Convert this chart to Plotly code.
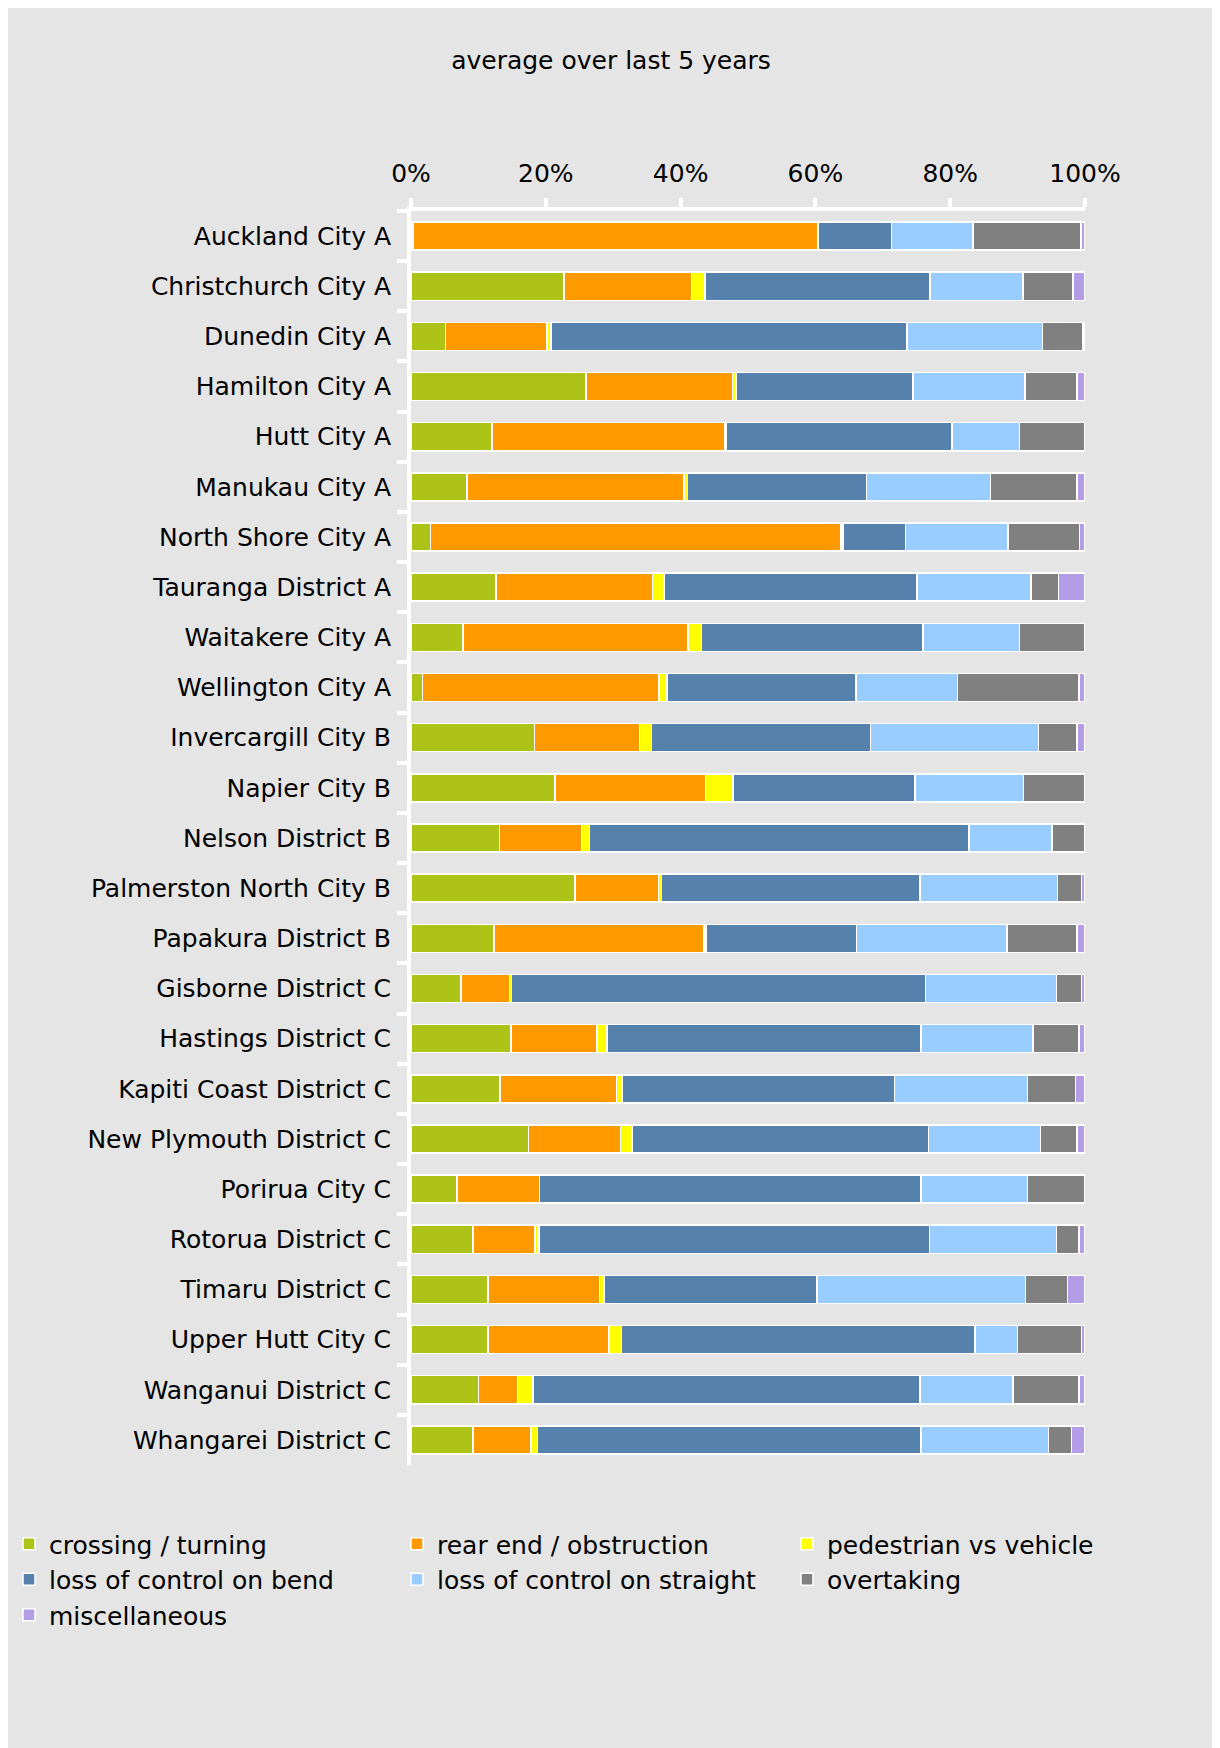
import plotly.graph_objects as go

# areas, top to bottom
areas = [
    "Auckland City A", "Christchurch City A", "Dunedin City A", "Hamilton City A",
    "Hutt City A", "Manukau City A", "North Shore City A", "Tauranga District A",
    "Waitakere City A", "Wellington City A", "Invercargill City B", "Napier City B",
    "Nelson District B", "Palmerston North City B", "Papakura District B",
    "Gisborne District C", "Hastings District C", "Kapiti Coast District C",
    "New Plymouth District C", "Porirua City C", "Rotorua District C",
    "Timaru District C", "Upper Hutt City C", "Wanganui District C",
    "Whangarei District C",
]

# share of crashes (%) by movement type, same order as areas
crossing_turning = [0.3, 22.7, 5.1, 26.0, 12.0, 8.3, 2.9, 12.6, 7.7, 1.7, 18.3, 21.4, 13.1,
                    24.3, 12.3, 7.4, 14.8, 13.2, 17.4, 6.8, 9.2, 11.4, 11.4, 10.0, 9.2]
rear_end = [60.1, 18.9, 15.1, 21.7, 34.6, 32.2, 60.9, 23.2, 33.4, 35.1, 15.6, 22.3, 12.2,
            12.4, 31.2, 7.2, 12.8, 17.3, 13.7, 12.3, 9.2, 16.6, 18.0, 5.8, 8.6]
pedestrian = [0.0, 2.0, 0.6, 0.5, 0.2, 0.5, 0.3, 1.7, 2.0, 1.2, 1.8, 4.1, 1.2,
              0.5, 0.3, 0.3, 1.5, 0.8, 1.7, 0.0, 0.6, 0.6, 1.8, 2.3, 1.0]
bend = [10.9, 33.4, 52.8, 26.3, 33.5, 26.6, 9.3, 37.6, 32.9, 28.0, 32.5, 27.0, 56.3,
        38.3, 22.3, 61.4, 46.6, 40.4, 44.0, 56.6, 57.9, 31.6, 52.5, 57.4, 56.9]
straight = [12.1, 13.8, 20.1, 16.6, 10.0, 18.4, 15.2, 16.9, 14.3, 15.1, 24.9, 16.1, 12.3,
            20.4, 22.3, 19.5, 16.6, 19.8, 16.6, 15.8, 18.9, 31.0, 6.3, 13.8, 18.9]
overtaking = [16.0, 7.4, 6.0, 7.7, 9.7, 12.8, 10.6, 4.1, 9.7, 18.0, 5.7, 9.1, 4.9,
              3.6, 10.4, 3.7, 6.8, 7.1, 5.4, 8.5, 3.3, 6.2, 9.5, 9.8, 3.4]
misc = [0.6, 1.8, 0.3, 1.2, 0.0, 1.2, 0.8, 3.9, 0.0, 0.9, 1.2, 0.0, 0.0,
        0.5, 1.2, 0.5, 0.9, 1.4, 1.2, 0.0, 0.9, 2.6, 0.5, 0.9, 2.0]

pct_ticks = [0, 20, 40, 60, 80, 100]
pct_labels = ["0%", "20%", "40%", "60%", "80%", "100%"]

# (name, values, colour, legend column)
series = [
    ("crossing / turning", crossing_turning, "#adc318", "legend"),
    ("rear end / obstruction", rear_end, "#ff9900", "legend2"),
    ("pedestrian vs vehicle", pedestrian, "#ffff00", "legend3"),
    ("loss of control on bend", bend, "#5781ad", "legend"),
    ("loss of control on straight", straight, "#99ccff", "legend2"),
    ("overtaking", overtaking, "#808080", "legend3"),
    ("miscellaneous", misc, "#b39de6", "legend"),
]

FONT = "DejaVu Sans"
BG = "#e5e5e5"

fig = go.Figure()
for name, vals, col, leg in series:
    fig.add_trace(go.Bar(
        y=areas, x=vals, name=name, orientation="h", legend=leg,
        marker=dict(color=col, line=dict(color="white", width=1.5)),
    ))

# page puts the figure 8px in from the top-left corner
W, H = 1212, 1740
L, R, T, B = 403, 135, 203, 283
pw, ph = W - L - R, H - T - B


def legend_col(px):
    return dict(orientation="v", traceorder="normal",
                x=(px - L) / pw, xanchor="left",
                y=(H - B - 1513) / ph, yanchor="top",
                itemwidth=30, font=dict(size=25), bgcolor="rgba(0,0,0,0)")


fig.update_layout(
    width=W, height=H,
    margin=dict(l=L, r=R, t=T, b=B, pad=0, autoexpand=False),
    barmode="stack", bargap=0.44,
    paper_bgcolor=BG, plot_bgcolor=BG,
    font=dict(family=FONT, size=25, color="#000000"),
    title=dict(text="average over last 5 years", x=603 / W, xanchor="center",
               y=1 - 52 / H, yanchor="middle", font=dict(size=25)),
    showlegend=True,
    legend=legend_col(1),
    legend2=legend_col(389),
    legend3=legend_col(779),
)

fig.update_xaxes(
    side="top", range=[0, 100], tickvals=pct_ticks, ticktext=pct_labels,
    showgrid=False, zeroline=False, automargin=False,
    showline=True, linecolor="white", linewidth=4,
    ticks="outside", tickcolor="white", tickwidth=4, ticklen=9,
    ticklabelstandoff=6,
)
fig.update_yaxes(
    autorange="reversed", showgrid=False, zeroline=False, automargin=False,
    showline=True, linecolor="white", linewidth=4,
    ticks="outside", tickson="boundaries", tickcolor="white", tickwidth=4, ticklen=10,
    ticklabelstandoff=11,
)

fig.write_html("out.html")
